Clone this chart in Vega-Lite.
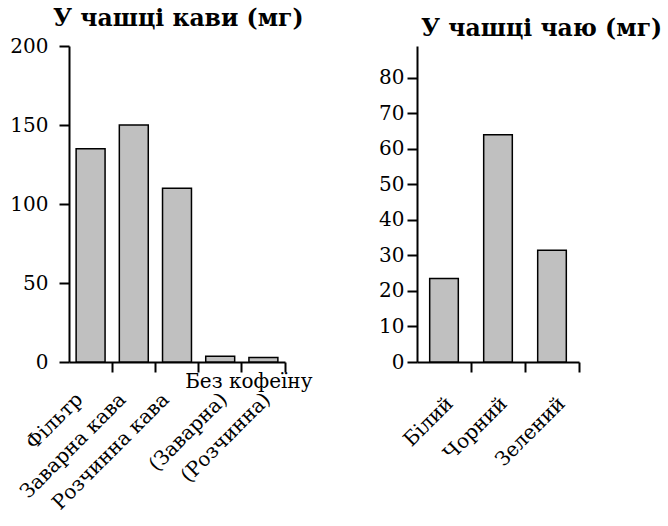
{
  "$schema": "https://vega.github.io/schema/vega-lite/v6.json",
  "padding": {"left": 9, "top": 6, "right": 5, "bottom": 5},
  "background": "white",
  "config": {
    "font": "DejaVu Serif",
    "view": {"stroke": null},
    "axis": {"domainColor": "black", "domainWidth": 2, "tickColor": "black", "tickWidth": 2, "tickSize": 10, "labelColor": "black", "labelFont": "DejaVu Serif", "grid": false, "labelOverlap": false},
    "title": {"font": "DejaVu Serif", "fontSize": 23.5, "fontWeight": "bold", "color": "black"},
    "concat": {"spacing": 65}
  },
  "hconcat": [
    {
      "width": 216,
      "height": 316,
      "title": {"text": "У чашці кави (мг)", "anchor": "start", "frame": "group", "dx": -16, "offset": 6},
      "data": {"values": [
        {"напій": "Фільтр", "мг": 135},
        {"напій": "Заварна кава", "мг": 150},
        {"напій": "Розчинна кава", "мг": 110},
        {"напій": "(Заварна)", "мг": 3.7},
        {"напій": "(Розчинна)", "мг": 2.8}
      ]},
      "layer": [
        {
          "mark": {"type": "bar", "width": {"band": 0.67}, "fill": "#c0c0c0", "stroke": "black", "strokeWidth": 1.5},
          "encoding": {
            "x": {"field": "напій", "type": "nominal",
              "scale": {"domain": ["Фільтр", "Заварна кава", "Розчинна кава", "(Заварна)", "(Розчинна)"], "paddingInner": 0, "paddingOuter": 0},
              "axis": {"bandPosition": 1, "labelAngle": -45, "labelAlign": "right", "labelBaseline": "middle", "labelPadding": 24,
                "labelOffset": {"condition": {"test": "indexof(datum.value, '(') === 0", "value": 4}, "value": -11},
                "labelFontSize": 20, "title": null}},
            "y": {"field": "мг", "type": "quantitative", "scale": {"domain": [0, 200]},
              "axis": {"values": [0, 50, 100, 150, 200], "labelFontSize": 20, "labelPadding": 11, "title": null}}
          }
        },
        {
          "data": {"values": [{"напій": "(Розчинна)", "група": "Без кофеїну"}]},
          "mark": {"type": "text", "dx": 7, "dy": 20, "fontSize": 20, "baseline": "middle", "align": "center", "color": "black"},
          "encoding": {
            "x": {"field": "напій", "type": "nominal", "bandPosition": 0},
            "y": {"datum": 0},
            "text": {"field": "група"}
          }
        }
      ]
    },
    {
      "width": 162,
      "height": 316,
      "title": {"text": "У чашці чаю (мг)", "anchor": "start", "frame": "group", "dx": 4, "offset": 6},
      "data": {"values": [
        {"чай": "Білий", "мг": 23.5},
        {"чай": "Чорний", "мг": 64},
        {"чай": "Зелений", "мг": 31.5}
      ]},
      "mark": {"type": "bar", "width": {"band": 0.53}, "fill": "#c0c0c0", "stroke": "black", "strokeWidth": 1.5},
      "encoding": {
        "x": {"field": "чай", "type": "nominal",
          "scale": {"domain": ["Білий", "Чорний", "Зелений"], "paddingInner": 0, "paddingOuter": 0},
          "axis": {"bandPosition": 1, "labelAngle": -45, "labelAlign": "right", "labelBaseline": "middle", "labelPadding": 28,
            "labelOffset": {"condition": {"test": "datum.value === 'Зелений'", "value": 10}, "value": 6},
            "labelFontSize": 20, "title": null}},
        "y": {"field": "мг", "type": "quantitative", "scale": {"domain": [0, 89]},
          "axis": {"values": [0, 10, 20, 30, 40, 50, 60, 70, 80], "labelFontSize": 20, "labelPadding": 3, "title": null}}
      }
    }
  ]
}
